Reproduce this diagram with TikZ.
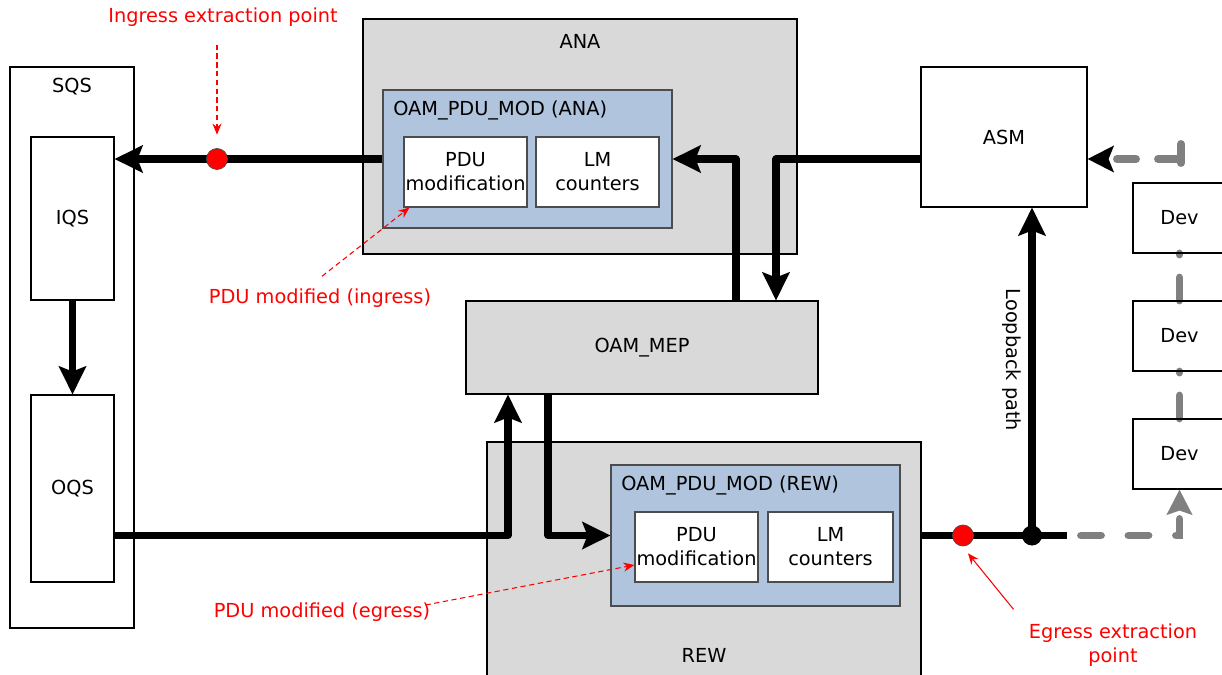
\documentclass[tikz,border=0pt]{standalone}
\usepackage{fontspec}
\setmainfont{DejaVu Sans}
\usetikzlibrary{arrows.meta,positioning,backgrounds}

\definecolor{blockgray}{RGB}{217,217,217}
\definecolor{modblue}{RGB}{176,196,222}
\definecolor{linegray}{RGB}{128,128,128}
\definecolor{notered}{RGB}{255,0,0}

\tikzset{
  box/.style={draw, line width=0.6pt, align=center},
  graybox/.style={box, fill=blockgray},
  modbox/.style={box, draw=black!70, fill=modblue},
  whitebox/.style={box, draw=black!70, fill=white},
  flow/.style={line width=4pt, line join=round, -{Stealth[length=5.6mm, width=5.4mm, inset=1mm]}},
  flowline/.style={line width=4pt, line join=round},
  devpath/.style={draw=linegray, line width=4.5pt, line cap=round, dash pattern=on 4mm off 5.5mm},
  devgap/.style={devpath, dash pattern=on 0.2mm off 4.6mm on 8mm off 2mm},
  note/.style={text=notered},
  notearrow/.style={notered, line width=0.6pt, -{Stealth[length=2.2mm, width=1.8mm]}},
  reddot/.style={circle, draw=black!70, fill=red, minimum size=4.2mm},
}

\begin{document}
\begin{tikzpicture}[x=0.2mm, y=-0.2mm,
    every node/.style={inner sep=0pt, font=\fontsize{11}{13.6}\selectfont}]
    \useasboundingbox (0,0) rectangle (1222,675);

    % SQS
    \node[box, minimum width=24.8mm, minimum height=112.2mm] (sqs) at (72,347.5) {};
    \node (sqslbl) at (72,87) {SQS};
    \node[box, minimum width=16.6mm, minimum height=32.6mm] (iqs) at (72.5,218.5) {IQS};
    \node[box, minimum width=16.6mm, minimum height=37.4mm] (oqs) at (72.5,488.5) {OQS};

    % ANA
    \node[graybox, minimum width=86.8mm, minimum height=47mm] (ana) at (580,136.5) {};
    \node (analbl) at (580,41) {ANA};
    \node[modbox, minimum width=57.8mm, minimum height=27.6mm] (modana) at (527.5,159) {};
    \node[anchor=west] (modanalbl) at (393,110) {OAM\_PDU\_MOD (ANA)};
    \node[whitebox, minimum width=24.6mm, minimum height=14mm] (pduana) at (465.5,172) {PDU\\modification};
    \node[whitebox, minimum width=24.6mm, minimum height=14mm] (lmana) at (597.5,172) {LM\\counters};

    % ASM, OAM_MEP
    \node[box, minimum width=33.2mm, minimum height=28mm] (asm) at (1004,137) {ASM};
    \node[graybox, minimum width=70.4mm, minimum height=18.6mm] (mep) at (642,347.5) {OAM\_MEP};

    % REW
    \node[graybox, minimum width=86.8mm, minimum height=47.6mm] (rew) at (704,561) {};
    \node (rewlbl) at (704,655) {REW};
    \node[modbox, minimum width=57.8mm, minimum height=28.2mm] (modrew) at (755.5,535.5) {};
    \node[anchor=west] (modrewlbl) at (621,485) {OAM\_PDU\_MOD (REW)};
    \node[whitebox, minimum width=24.6mm, minimum height=14mm] (pdurew) at (696.5,547) {PDU\\modification};
    \node[whitebox, minimum width=25mm, minimum height=14mm] (lmrew) at (830.5,547) {LM\\counters};

    % Dev
    \node[box, minimum width=18.6mm, minimum height=14mm] (dev1) at (1179.5,218) {Dev};
    \node[box, minimum width=18.6mm, minimum height=14mm] (dev2) at (1179.5,336) {Dev};
    \node[box, minimum width=18.6mm, minimum height=14mm] (dev3) at (1179.5,454) {Dev};

    % ingress
    \draw[flow] (modana.west) -- (iqs.east |- modana.west);
    \node[reddot] (idot) at (217,159) {};
    \draw[flow] (iqs.south) -- (oqs.north);

    % ASM <-> OAM_MEP <-> ANA
    \draw[flow] (asm.west |- modana.east) -| ([xshift=26.8mm]mep.north);
    \draw[flow] ([xshift=18.8mm]mep.north) |- (modana.east);

    % OQS -> OAM_MEP -> REW
    \draw[flow] (oqs.east |- modrew.west) -| ([xshift=-26.8mm]mep.south);
    \draw[flow] ([xshift=-18.8mm]mep.south) |- (modrew.west);

    % egress
    \coordinate (jn) at (1032,535.5);
    \coordinate (bkend) at (1067,535.5);
    \coordinate (gstart) at (1081,535.5);
    \draw[flowline] (modrew.east -| rew.east) -- (bkend);
    \node[reddot] (edot) at (963,535.5) {};
    \node[circle, fill=black, minimum size=4mm] (jnode) at (jn) {};

    % loopback
    \draw[flow] (jnode.center) -- (asm.south -| jn);
    \node[rotate=-90] (looplbl) at (1012,360) {Loopback path};

    % Dev path
    \coordinate (devtop) at (1181,144);
    \coordinate (devcorner) at (1181,163);
    \coordinate (devturn) at (1177,159);
    \draw[devpath, -{Stealth[length=5mm, width=5mm, inset=0.8mm]}] (gstart) -| (dev3.south);
    \begin{scope}[on background layer]
      \draw[devgap] (dev1.south) -- (dev2.north);
      \draw[devgap] (dev2.south) -- (dev3.north);
    \end{scope}
    \draw[devpath, solid] (devtop) -- (devcorner);
    \draw[devpath, dash pattern=on 3.8mm off 4.4mm, -{Stealth[length=5.2mm, width=5.2mm, inset=1mm, color=black]}] (devturn) -- (asm.east |- modana.east);

    % red notes
    \node[note] (ingtxt) at (223,17) {Ingress extraction point};
    \draw[notearrow, densely dashed, shorten <=3.6mm, shorten >=2.7mm] (ingtxt.south -| idot.north) -- (idot.north);

    \node[note] (pmitxt) at (320,298) {PDU modified (ingress)};
    \draw[notearrow, densely dashed] ([xshift=0.4mm, yshift=2.4mm]pmitxt.north) -- ([xshift=1.2mm]pduana.south west);

    \node[note] (pmetxt) at (322,612) {PDU modified (egress)};
    \draw[notearrow, densely dashed] ([xshift=-1mm, yshift=1.4mm]pmetxt.east) -- ([yshift=-3.6mm]pdurew.west);

    \node[note, align=center] (egtxt) at (1113,645) {Egress extraction\\point};
    \draw[notearrow] ([shift={(-3mm,2.8mm)}]egtxt.north west) -- ([shift={(1mm,-1.4mm)}]edot.south);
\end{tikzpicture}
\end{document}
